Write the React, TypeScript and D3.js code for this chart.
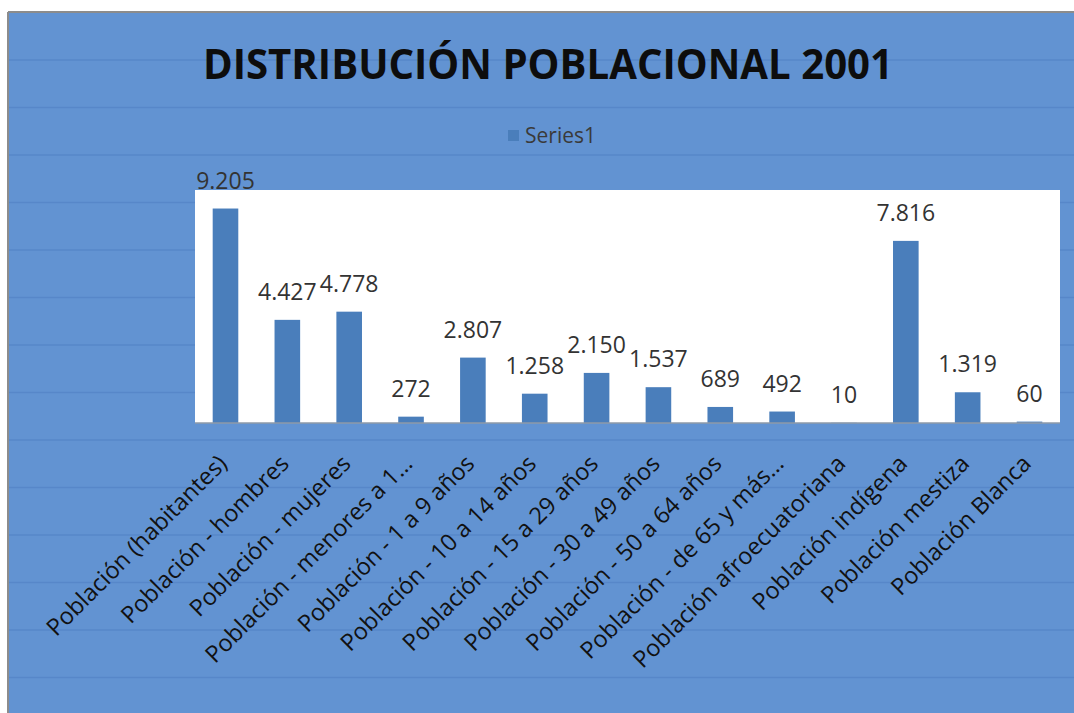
import React, { useEffect } from 'react';
import * as d3 from 'd3';

const categories = [
  'Población (habitantes)',
  'Población - hombres',
  'Población - mujeres',
  'Población - menores a 1…',
  'Población - 1 a 9 años',
  'Población - 10 a 14 años',
  'Población - 15 a 29 años',
  'Población - 30 a 49 años',
  'Población - 50 a 64 años',
  'Población - de 65 y más…',
  'Población afroecuatoriana',
  'Población indígena',
  'Población mestiza',
  'Población Blanca',
];
const series1 = [9205, 4427, 4778, 272, 2807, 1258, 2150, 1537, 689, 492, 10, 7816, 1319, 60];
const valueLabels = ['9.205', '4.427', '4.778', '272', '2.807', '1.258', '2.150', '1.537', '689', '492', '10', '7.816', '1.319', '60'];
const seriesName = 'Series1';
const title = 'DISTRIBUCIÓN POBLACIONAL 2001';

function App() {
  const d3Container = React.createRef<any>();

  const width = 1074;
  const height = 713;
  const plot = { left: 195, right: 1060, top: 190, bottom: 423 };
  const font = '"Open Sans", "Noto Sans", sans-serif';

  useEffect(function () {
    if (!d3Container.current) return;
    const svg = d3.select(d3Container.current as any);
    svg.selectAll('*').remove();

    // page + chart background
    svg.append('rect').attr('width', width).attr('height', height).attr('fill', '#ffffff');
    svg.append('rect')
      .attr('x', 9).attr('y', 13)
      .attr('width', width - 9).attr('height', height - 13)
      .attr('fill', '#6293d2');
    // faint horizontal stripes of the background
    svg.append('g').selectAll('line')
      .data(d3.range(60, height, 47.5))
      .join('line')
      .attr('x1', 9).attr('x2', width)
      .attr('y1', d => d).attr('y2', d => d)
      .attr('stroke', '#5787c9').attr('stroke-width', 1.5);
    svg.append('line')
      .attr('x1', 8).attr('x2', 8).attr('y1', 12).attr('y2', height)
      .attr('stroke', '#8c8c8c').attr('stroke-width', 2);
    svg.append('line')
      .attr('x1', 8).attr('x2', width).attr('y1', 12).attr('y2', 12)
      .attr('stroke', '#8c8c8c').attr('stroke-width', 2);

    // plot area
    svg.append('rect')
      .attr('x', plot.left).attr('y', plot.top)
      .attr('width', plot.right - plot.left).attr('height', plot.bottom - plot.top)
      .attr('fill', '#ffffff');

    const x = d3.scaleBand<string>()
      .domain(categories)
      .range([plot.left, plot.right])
      .paddingInner(0.586)
      .paddingOuter(0.286);
    const y = d3.scaleLinear().domain([0, 10000]).range([plot.bottom, plot.top]);

    const bars = svg.append('g');
    bars.selectAll('rect')
      .data(series1)
      .join('rect')
      .attr('x', (d, i) => x(categories[i]) as number)
      .attr('y', d => y(d))
      .attr('width', x.bandwidth())
      .attr('height', d => y(0) - y(d))
      .attr('fill', '#4a7ebb');

    svg.append('line')
      .attr('x1', plot.left).attr('x2', plot.right)
      .attr('y1', plot.bottom).attr('y2', plot.bottom)
      .attr('stroke', '#8e9aa8').attr('stroke-width', 1.5);

    // data labels
    svg.append('g').selectAll('text')
      .data(series1)
      .join('text')
      .attr('x', (d, i) => (x(categories[i]) as number) + x.bandwidth() / 2)
      .attr('y', d => y(d) - 20)
      .attr('text-anchor', 'middle')
      .attr('font-family', font)
      .attr('font-size', 23)
      .attr('fill', '#333333')
      .text((d, i) => valueLabels[i]);

    // category labels
    svg.append('g').selectAll('text')
      .data(categories)
      .join('text')
      .attr('transform', d => `translate(${(x(d) as number) + x.bandwidth() / 2 + 3},${plot.bottom + 42}) rotate(-45)`)
      .attr('text-anchor', 'end')
      .attr('font-family', font)
      .attr('font-size', 23.5)
      .attr('fill', '#111111')
      .text(d => d);

    // title
    svg.append('text')
      .attr('x', 548).attr('y', 79)
      .attr('text-anchor', 'middle')
      .attr('font-family', font)
      .attr('font-weight', 'bold')
      .attr('font-size', 41)
      .attr('textLength', 690)
      .attr('lengthAdjust', 'spacingAndGlyphs')
      .attr('fill', '#0d0d0d')
      .text(title);

    // legend
    svg.append('rect')
      .attr('x', 508).attr('y', 130).attr('width', 11).attr('height', 11)
      .attr('fill', '#4a7ebb');
    svg.append('text')
      .attr('x', 525).attr('y', 143)
      .attr('font-family', font)
      .attr('font-size', 21)
      .attr('fill', '#3a3a3a')
      .text(seriesName);
  });

  return (
    <svg
      width={width}
      height={height}
      ref={d3Container}
      style={{ position: 'absolute', left: 0, top: 0 }}
    />
  );
}

export default App;
